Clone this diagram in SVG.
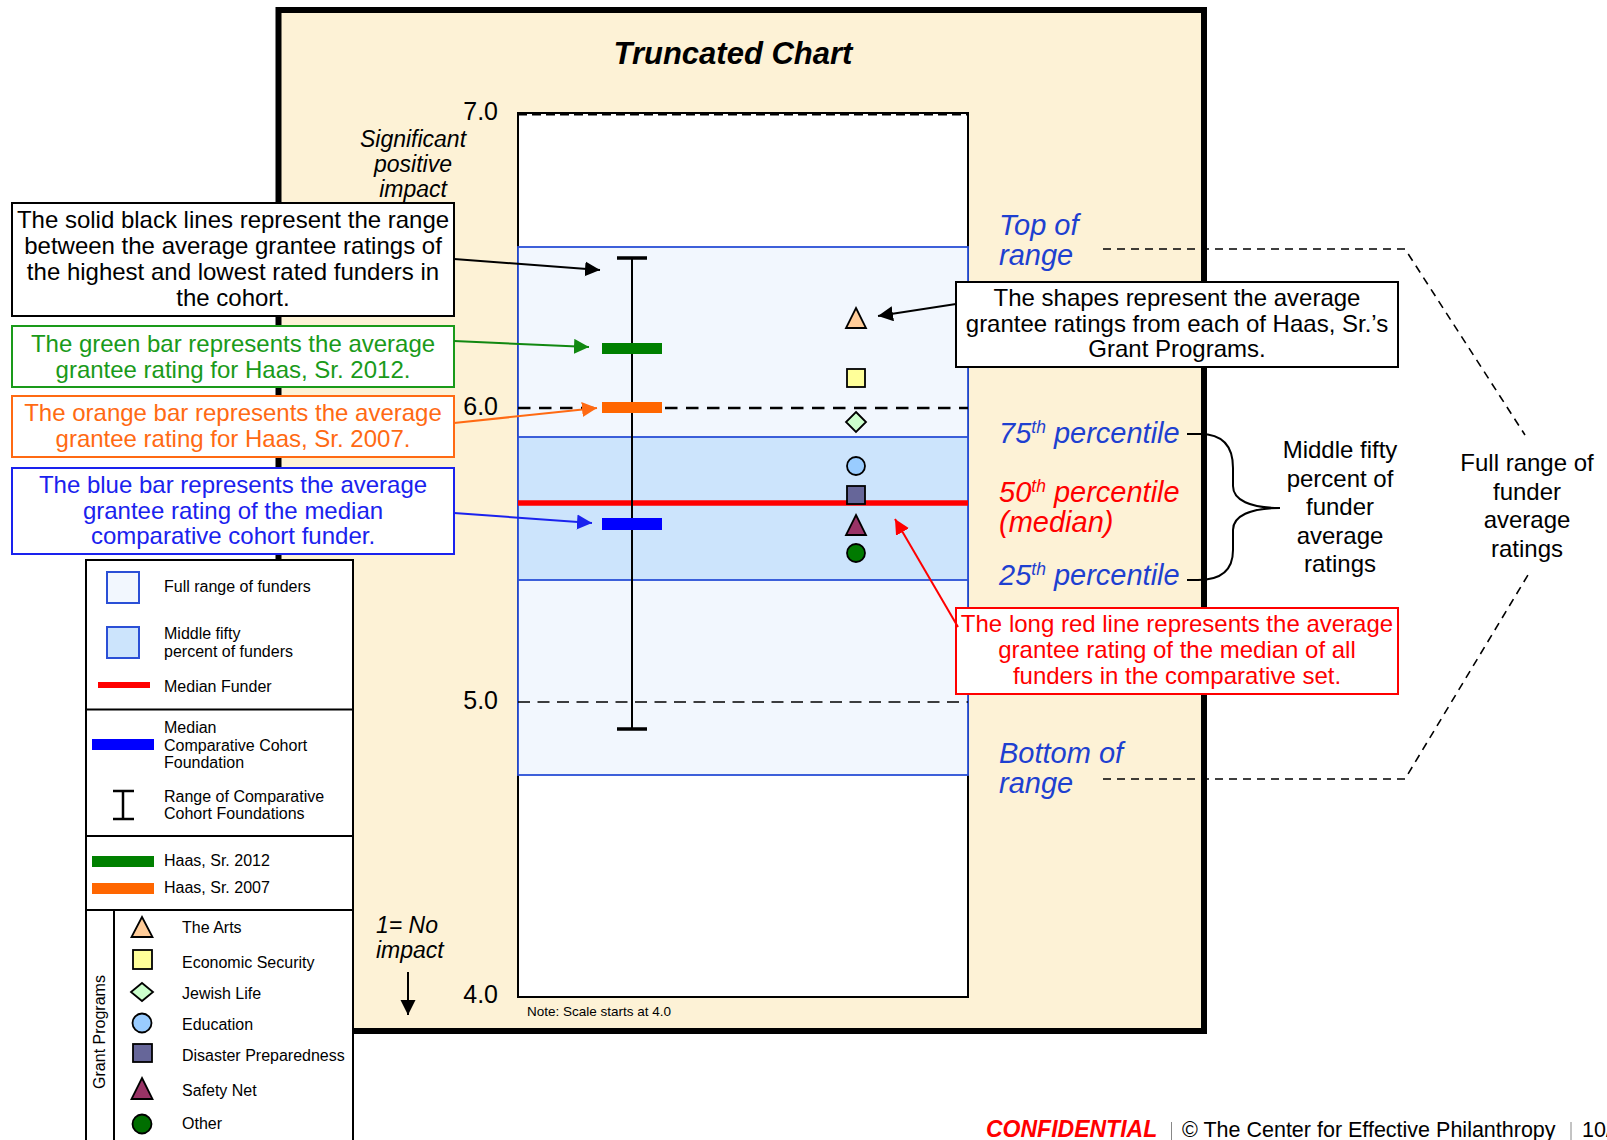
<svg xmlns="http://www.w3.org/2000/svg" width="1607" height="1140" viewBox="0 0 1607 1140">
<style>
text{font-family:"Liberation Sans",Arial,sans-serif;fill:#000}
.c{font-size:24px;text-anchor:middle}
.ax{font-size:25px;text-anchor:end}
.it{font-style:italic;font-size:23px}
.rl{font-size:29px;font-style:italic;fill:#1E40D0}
.red{fill:#FF0000}
.sup{font-size:17.5px}
.lg{font-size:16px}
.sh{stroke:#000;stroke-width:1.8}
.box{fill:#fff;stroke-width:2}
.guide{fill:none;stroke:#000;stroke-width:1.6;stroke-dasharray:8 6}
.arr{fill:none;stroke-width:2}
</style>
<defs>
<marker id="mk" markerUnits="userSpaceOnUse" markerWidth="16" markerHeight="16" refX="15" refY="7.5" orient="auto"><path d="M0,0 L15,7.5 L0,15 z" fill="#000"/></marker>
<marker id="mg" markerUnits="userSpaceOnUse" markerWidth="16" markerHeight="16" refX="15" refY="7.5" orient="auto"><path d="M0,0 L15,7.5 L0,15 z" fill="#118811"/></marker>
<marker id="mo" markerUnits="userSpaceOnUse" markerWidth="16" markerHeight="16" refX="15" refY="7.5" orient="auto"><path d="M0,0 L15,7.5 L0,15 z" fill="#FF6A13"/></marker>
<marker id="mb" markerUnits="userSpaceOnUse" markerWidth="16" markerHeight="16" refX="15" refY="7.5" orient="auto"><path d="M0,0 L15,7.5 L0,15 z" fill="#1A22EE"/></marker>
<marker id="mr" markerUnits="userSpaceOnUse" markerWidth="16" markerHeight="16" refX="15" refY="7.5" orient="auto"><path d="M0,0 L15,7.5 L0,15 z" fill="#FF0000"/></marker>
</defs>
<rect x="0" y="0" width="1607" height="1140" fill="#fff"/>

<g id="frame">
<rect x="278.5" y="10" width="925.5" height="1021" fill="#FDF2D6" stroke="#000" stroke-width="6"/>
<text x="733" y="64" font-size="31" font-weight="bold" font-style="italic" text-anchor="middle">Truncated Chart</text>
</g>

<g id="plot">
<rect x="518" y="113" width="450" height="884" fill="#fff" stroke="#000" stroke-width="2"/>
<line x1="518" y1="114.5" x2="968" y2="114.5" stroke="#000" stroke-width="2" stroke-dasharray="9 5"/>
<rect x="518" y="247" width="450" height="528" fill="#F2F7FE" stroke="#2A4FD6" stroke-width="1.8"/>
<rect x="518" y="437" width="450" height="143" fill="#CCE4FC" stroke="#2A4FD6" stroke-width="1.8"/>
<line x1="518" y1="408" x2="968" y2="408" stroke="#000" stroke-width="2.6" stroke-dasharray="12.5 8.5"/>
<line x1="518" y1="702" x2="968" y2="702" stroke="#000" stroke-width="1.7" stroke-dasharray="12 7.5"/>
<line x1="518" y1="503" x2="968" y2="503" stroke="#FF0000" stroke-width="5.5"/>
<line x1="632" y1="258" x2="632" y2="729" stroke="#000" stroke-width="2"/>
<line x1="617" y1="258" x2="647" y2="258" stroke="#000" stroke-width="3.5"/>
<line x1="617" y1="729" x2="647" y2="729" stroke="#000" stroke-width="3.5"/>
<rect x="602" y="343" width="60" height="11" fill="#008000"/>
<rect x="602" y="402" width="60" height="11" fill="#FF6600"/>
<rect x="602" y="518" width="60" height="12" fill="#0000FF"/>
<polygon class="sh" points="856,308 866,328 846,328" fill="#FFCC99"/>
<rect class="sh" x="847" y="369" width="18" height="18" fill="#FFFF99"/>
<polygon class="sh" points="856,412 866,422 856,432 846,422" fill="#CCFFCC"/>
<circle class="sh" cx="856" cy="466" r="9" fill="#99CCFF"/>
<rect class="sh" x="847" y="486" width="18" height="18" fill="#666699"/>
<polygon class="sh" points="856,515 866,535 846,535" fill="#993366"/>
<circle class="sh" cx="856" cy="553" r="9" fill="#007A00"/>
<text class="ax" x="498" y="120">7.0</text>
<text class="ax" x="498" y="415">6.0</text>
<text class="ax" x="498" y="709">5.0</text>
<text class="ax" x="498" y="1003">4.0</text>
<text x="527" y="1016" font-size="13.5">Note: Scale starts at 4.0</text>
</g>

<g id="axis-notes">
<text class="it" x="413" y="147" text-anchor="middle">Significant</text>
<text class="it" x="413" y="172" text-anchor="middle">positive</text>
<text class="it" x="413" y="197" text-anchor="middle">impact</text>
<text class="it" x="376" y="933">1= No</text>
<text class="it" x="376" y="958">impact</text>
</g>

<g id="range-labels">
<text class="rl" x="999" y="235">Top of</text>
<text class="rl" x="999" y="265">range</text>
<text class="rl" x="999" y="443">75<tspan class="sup" dy="-10">th</tspan><tspan dy="10"> percentile</tspan></text>
<text class="rl red" x="999" y="502">50<tspan class="sup" dy="-10">th</tspan><tspan dy="10"> percentile</tspan></text>
<text class="rl red" x="999" y="532">(median)</text>
<text class="rl" x="999" y="585">25<tspan class="sup" dy="-10">th</tspan><tspan dy="10"> percentile</tspan></text>
<text class="rl" x="999" y="763">Bottom of</text>
<text class="rl" x="999" y="793">range</text>
</g>

<g id="middle-fifty-label">
<text class="c" x="1340" y="458">Middle fifty</text>
<text class="c" x="1340" y="486.5">percent of</text>
<text class="c" x="1340" y="515">funder</text>
<text class="c" x="1340" y="543.5">average</text>
<text class="c" x="1340" y="572">ratings</text>
</g>

<g id="full-range-label">
<text class="c" x="1527" y="471">Full range of</text>
<text class="c" x="1527" y="500">funder</text>
<text class="c" x="1527" y="528">average</text>
<text class="c" x="1527" y="557">ratings</text>
</g>

<g id="callout-black">
<rect class="box" x="12" y="203" width="442" height="113" stroke="#000" stroke-width="2.5"/>
<text class="c" x="233" y="227.5">The solid black lines represent the range</text>
<text class="c" x="233" y="253.5">between the average grantee ratings of</text>
<text class="c" x="233" y="279.5">the highest and lowest rated funders in</text>
<text class="c" x="233" y="305.5">the cohort.</text>
</g>

<g id="callout-green">
<rect class="box" x="12" y="326" width="442" height="61" stroke="#1A9A1A"/>
<text class="c" x="233" y="352" style="fill:#1A9A1A">The green bar represents the average</text>
<text class="c" x="233" y="378" style="fill:#1A9A1A">grantee rating for Haas, Sr. 2012.</text>
</g>

<g id="callout-orange">
<rect class="box" x="12" y="396" width="442" height="61" stroke="#FF6A13"/>
<text class="c" x="233" y="421" style="fill:#FF6A13">The orange bar represents the average</text>
<text class="c" x="233" y="447" style="fill:#FF6A13">grantee rating for Haas, Sr. 2007.</text>
</g>

<g id="callout-blue">
<rect class="box" x="12" y="468" width="442" height="86" stroke="#1A22EE"/>
<text class="c" x="233" y="493" style="fill:#1A22EE">The blue bar represents the average</text>
<text class="c" x="233" y="518.5" style="fill:#1A22EE">grantee rating of the median</text>
<text class="c" x="233" y="544" style="fill:#1A22EE">comparative cohort funder.</text>
</g>

<g id="callout-shapes">
<rect class="box" x="956" y="282" width="442" height="85" stroke="#000" stroke-width="2.5"/>
<text class="c" x="1177" y="306">The shapes represent the average</text>
<text class="c" x="1177" y="332">grantee ratings from each of Haas, Sr.’s</text>
<text class="c" x="1177" y="357">Grant Programs.</text>
</g>

<g id="callout-red">
<rect class="box" x="956" y="608" width="442" height="86" stroke="#FF0000"/>
<text class="c red" x="1177" y="632">The long red line represents the average</text>
<text class="c red" x="1177" y="658">grantee rating of the median of all</text>
<text class="c red" x="1177" y="684">funders in the comparative set.</text>
</g>

<g id="legend">
<rect x="86" y="560" width="267" height="600" fill="#fff" stroke="#000" stroke-width="2"/>
<line x1="86" y1="709.5" x2="353" y2="709.5" stroke="#000" stroke-width="2"/>
<line x1="86" y1="836" x2="353" y2="836" stroke="#000" stroke-width="2"/>
<line x1="86" y1="910" x2="353" y2="910" stroke="#000" stroke-width="2"/>
<line x1="114" y1="910" x2="114" y2="1140" stroke="#000" stroke-width="2"/>
<rect x="107" y="572" width="32" height="31" fill="#F2F7FE" stroke="#2A4FD6" stroke-width="2"/>
<rect x="107" y="627" width="32" height="31" fill="#CCE4FC" stroke="#2A4FD6" stroke-width="2"/>
<rect x="98" y="682" width="52" height="6" fill="#FF0000"/>
<rect x="92" y="739" width="62" height="11" fill="#0000FF"/>
<line x1="123" y1="791" x2="123" y2="819" stroke="#000" stroke-width="2.5"/>
<line x1="113" y1="791" x2="134" y2="791" stroke="#000" stroke-width="2.5"/>
<line x1="113" y1="819" x2="134" y2="819" stroke="#000" stroke-width="2.5"/>
<rect x="92" y="856" width="62" height="11" fill="#008000"/>
<rect x="92" y="883" width="62" height="11" fill="#FF6600"/>
<text class="lg" x="164" y="592">Full range of funders</text>
<text class="lg" x="164" y="639">Middle fifty</text>
<text class="lg" x="164" y="657">percent of funders</text>
<text class="lg" x="164" y="692">Median Funder</text>
<text class="lg" x="164" y="732.5">Median</text>
<text class="lg" x="164" y="750.5">Comparative Cohort</text>
<text class="lg" x="164" y="768">Foundation</text>
<text class="lg" x="164" y="802">Range of Comparative</text>
<text class="lg" x="164" y="818.6">Cohort Foundations</text>
<text class="lg" x="164" y="866">Haas, Sr. 2012</text>
<text class="lg" x="164" y="893">Haas, Sr. 2007</text>
<text class="lg" x="104.5" y="1032" text-anchor="middle" transform="rotate(-90 104.5 1032)">Grant Programs</text>
<polygon class="sh" points="142,917 152.5,937 131.5,937" fill="#FFCC99"/>
<rect class="sh" x="133" y="950" width="19" height="19" fill="#FFFF99"/>
<polygon class="sh" points="142,983 153,992 142,1001 131,992" fill="#CCFFCC"/>
<circle class="sh" cx="142" cy="1023" r="9.5" fill="#99CCFF"/>
<rect class="sh" x="133" y="1044" width="19" height="18" fill="#666699"/>
<polygon class="sh" points="142,1078 152.5,1099 131.5,1099" fill="#993366"/>
<circle class="sh" cx="142" cy="1124" r="9.5" fill="#006E00"/>
<text class="lg" x="182" y="933">The Arts</text>
<text class="lg" x="182" y="968">Economic Security</text>
<text class="lg" x="182" y="998.5">Jewish Life</text>
<text class="lg" x="182" y="1030">Education</text>
<text class="lg" x="182" y="1061">Disaster Preparedness</text>
<text class="lg" x="182" y="1096">Safety Net</text>
<text class="lg" x="182" y="1129">Other</text>
</g>

<g id="footer">
<text x="986" y="1137" font-size="23" font-weight="bold" font-style="italic" style="fill:#FF0000">CONFIDENTIAL</text>
<line x1="1171.5" y1="1122" x2="1171.5" y2="1140" stroke="#888" stroke-width="1"/>
<text x="1182" y="1137" font-size="21.5">© The Center for Effective Philanthropy</text>
<line x1="1571" y1="1122" x2="1571" y2="1140" stroke="#888" stroke-width="1"/>
<text x="1582" y="1137" font-size="21.5">10/</text>
</g>

<g id="connectors">
<line class="arr" x1="454" y1="259" x2="600" y2="270" stroke="#000" marker-end="url(#mk)"/>
<line class="arr" x1="454" y1="341" x2="589" y2="347" stroke="#118811" marker-end="url(#mg)"/>
<line class="arr" x1="454" y1="423" x2="597" y2="408" stroke="#FF6A13" marker-end="url(#mo)"/>
<line class="arr" x1="454" y1="513" x2="592" y2="523" stroke="#1A22EE" marker-end="url(#mb)"/>
<line class="arr" x1="956" y1="304" x2="878" y2="316" stroke="#000" marker-end="url(#mk)"/>
<line class="arr" x1="958" y1="627" x2="895" y2="519" stroke="#FF0000" marker-end="url(#mr)"/>
<line class="arr" x1="408" y1="972" x2="408" y2="1015" stroke="#000" marker-end="url(#mk)"/>
<path class="guide" d="M1103,249 L1405,249 L1525,435"/>
<path class="guide" d="M1103,779 L1405,779 L1528,575"/>
<path d="M1187,434 L1200,434 C1224,434 1233,448 1233,468 L1233,486 C1233,500 1250,508 1280,508 C1250,508 1233,516 1233,530 L1233,550 C1233,570 1222,580 1198,580 L1187,580" fill="none" stroke="#000" stroke-width="2"/>
</g>
</svg>
